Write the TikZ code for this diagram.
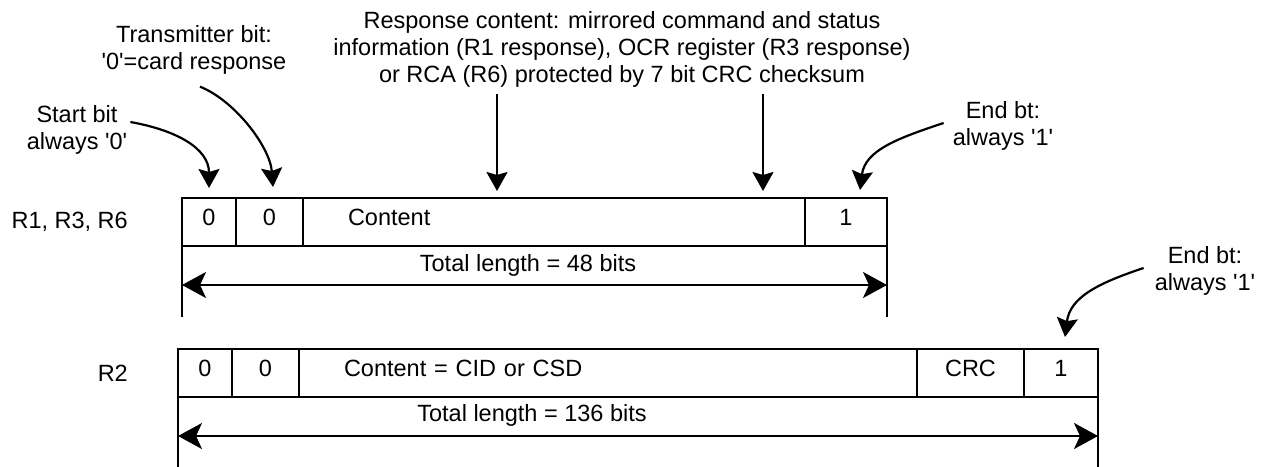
\documentclass[tikz,border=0pt]{standalone}
\usepackage{fontspec}
\setmainfont{Liberation Sans}[Ligatures=TeXOff]
\usetikzlibrary{positioning,arrows.meta}

\tikzset{
  cell/.style={draw, line width=2pt, outer sep=0pt, inner sep=0pt,
    minimum height=48pt, text height=17pt, text depth=11pt},
  pointer/.style={-{Stealth[length=19pt,width=21pt,inset=3pt]}, line width=2.2pt},
  span/.style={{Stealth[length=24pt,width=26pt,inset=6pt]}-{Stealth[length=24pt,width=26pt,inset=6pt]}, line width=2pt},
  lbl/.style={align=center, inner sep=0pt}
}

\begin{document}
\begin{tikzpicture}[x=1pt, y=-1pt, font=\fontsize{23.5}{27}\selectfont]
  \useasboundingbox (0,0) rectangle (1265,466);

  % R1, R3, R6 frame
  \node[anchor=east, inner sep=0pt] (r1name) at (128,222) {R1, R3, R6};
  \node[cell, minimum width=54pt, anchor=north west] (r1a) at (182,198) {0};
  \node[cell, minimum width=67pt, right=0pt of r1a] (r1b) {0};
  \node[cell, text width=412pt, inner xsep=45pt, align=left, right=0pt of r1b] (r1c) {Content};
  \node[cell, minimum width=82pt, right=0pt of r1c] (r1d) {1};
  \draw[line width=2pt] (r1a.south west) -- +(0,71);
  \draw[line width=2pt] (r1d.south east) -- +(0,71);
  \draw[span] ([yshift=-39pt]r1a.south west) -- ([yshift=-39pt]r1d.south east);
  \node (r1len) at (528,265) {Total length = 48 bits};

  % R2 frame
  \node[anchor=east, inner sep=0pt] (r2name) at (128,373) {R2};
  \node[cell, minimum width=54pt, anchor=north west] (r2a) at (178,349) {0};
  \node[cell, minimum width=67pt, right=0pt of r2a] (r2b) {0};
  \node[cell, text width=528pt, inner xsep=45pt, align=left, right=0pt of r2b] (r2c) {Content = CID or CSD};
  \node[cell, minimum width=107pt, right=0pt of r2c] (r2d) {CRC};
  \node[cell, minimum width=74pt, right=0pt of r2d] (r2e) {1};
  \draw[line width=2pt] (r2a.south west) -- +(0,70);
  \draw[line width=2pt] (r2e.south east) -- +(0,70);
  \draw[span] ([yshift=-39pt]r2a.south west) -- ([yshift=-39pt]r2e.south east);
  \node (r2len) at (532,415) {Total length = 136 bits};

  % Labels above
  \node[lbl] (content) at (622,49) {Response content: mirrored command and status\\information (R1 response), OCR register (R3 response)\\or RCA (R6) protected by 7 bit CRC checksum};
  \node[lbl] (txbit) at (194,50) {Transmitter bit:\\'0'=card response};
  \node[lbl] (startbit) at (77,130) {Start bit\\always '0'};
  \node[lbl] (endbit1) at (1003,126) {End bt:\\always '1'};
  \node[lbl] (endbit2) at (1205,271) {End bt:\\always '1'};

  % Pointers
  \draw[pointer] ([shift={(3pt,8pt)}]startbit.east) .. controls +(45,8) and +(0,-40) .. ([yshift=10pt]r1a.north);
  \draw[pointer] ([shift={(6pt,-12pt)}]txbit.south) .. controls +(35,14) and +(-3,-40) .. ([shift={(3.5pt,11pt)}]r1b.north);
  \coordinate (pA) at (497,94);
  \coordinate (pB) at (763,94);
  \draw[pointer, shorten >=7pt] (pA) -- (pA |- r1c.north);
  \draw[pointer, shorten >=7pt] (pB) -- (pB |- r1c.north);
  \draw[pointer] ([shift={(-9pt,3pt)}]endbit1.west) .. controls +(-45,15) and +(5,-40) .. ([shift={(14pt,8pt)}]r1d.north);
  \draw[pointer] ([shift={(-11pt,3pt)}]endbit2.west) .. controls +(-45,15) and +(5,-40) .. ([shift={(4pt,12pt)}]r2e.north);
\end{tikzpicture}
\end{document}
